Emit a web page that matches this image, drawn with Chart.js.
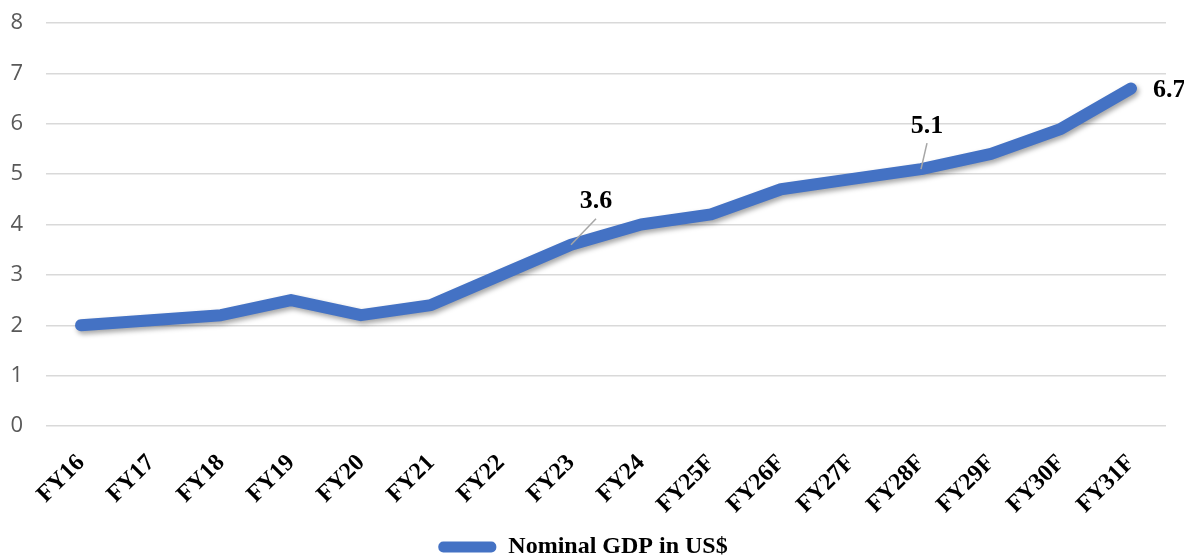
<!DOCTYPE html>
<html>
<head>
<meta charset="utf-8">
<script src="https://cdn.jsdelivr.net/npm/chart.js@4"></script>
<style>
  html, body { margin: 0; padding: 0; background: #fff; }
  #wrap { width: 1184px; height: 555px; }
</style>
</head>
<body>
<div id="wrap"><canvas id="gdpChart" width="1184" height="555"></canvas></div>
<script>
// fiscal years (F = forecast)
const years = ['FY16', 'FY17', 'FY18', 'FY19', 'FY20', 'FY21', 'FY22', 'FY23',
    'FY24', 'FY25F', 'FY26F', 'FY27F', 'FY28F', 'FY29F', 'FY30F', 'FY31F'];
// nominal GDP, trillion US$
const gdp = [2.0, 2.1, 2.2, 2.5, 2.2, 2.4, 3.0, 3.6, 4.0, 4.2, 4.7, 4.9, 5.1, 5.4, 5.9, 6.7];
const seriesName = 'Nominal GDP in US$';
// which points carry a value label
const labelledYears = ['FY23', 'FY28F', 'FY31F'];

const blue = '#4472C4';
const serif = '"Liberation Serif", "Times New Roman", serif';

// soft drop shadow under the line
const shadowPlugin = {
    id: 'lineShadow',
    beforeDatasetDraw(chart) {
        const ctx = chart.ctx;
        ctx.save();
        ctx.shadowColor = 'rgba(0,0,0,0.35)';
        ctx.shadowBlur = 5;
        ctx.shadowOffsetX = 2;
        ctx.shadowOffsetY = 3;
    },
    afterDatasetDraw(chart) {
        chart.ctx.restore();
    }
};

// value labels with small leader lines, like the excel callouts
const valueLabels = {
    id: 'valueLabels',
    afterDatasetsDraw(chart) {
        const ctx = chart.ctx;
        const meta = chart.getDatasetMeta(0);
        ctx.save();
        ctx.font = 'bold 26px ' + serif;
        ctx.fillStyle = '#000';
        labelledYears.forEach(yr => {
            const i = years.indexOf(yr);
            const pt = meta.data[i];
            const txt = gdp[i].toFixed(1);
            if (i === years.length - 1) {
                // last point: label to the right
                ctx.textAlign = 'left';
                ctx.textBaseline = 'middle';
                ctx.fillText(txt, pt.x + 22, pt.y + 2);
                return;
            }
            let dx = i === years.indexOf('FY23') ? 25 : 6;
            ctx.textAlign = 'center';
            ctx.textBaseline = 'middle';
            ctx.fillText(txt, pt.x + dx, pt.y - 43);
            // leader line
            ctx.strokeStyle = '#a6a6a6';
            ctx.lineWidth = 1.5;
            ctx.beginPath();
            ctx.moveTo(pt.x + dx, pt.y - 26);
            ctx.lineTo(pt.x, pt.y);
            ctx.stroke();
        });
        ctx.restore();
    }
};

const ctx = document.getElementById('gdpChart').getContext('2d');
new Chart(ctx, {
    type: 'line',
    data: {
        labels: years,
        datasets: [{
            label: seriesName,
            data: gdp,
            borderColor: blue,
            backgroundColor: blue,
            borderWidth: 12,
            borderCapStyle: 'round',
            borderJoinStyle: 'round',
            pointRadius: 0,
            tension: 0,
            fill: false
        }]
    },
    options: {
        responsive: false,
        animation: false,
        layout: {
            padding: { top: 23, right: 18, bottom: -14, left: 0 }
        },
        scales: {
            x: {
                offset: true,
                afterFit(scale) { scale.height = 109; },
                grid: { display: false, drawTicks: false },
                border: { display: false },
                ticks: {
                    color: '#000',
                    font: { family: serif, size: 24, weight: 'bold' },
                    minRotation: 45,
                    maxRotation: 45,
                    autoSkip: false,
                    padding: 23
                }
            },
            y: {
                min: 0,
                max: 8,
                afterFit(scale) {
                    scale.width = 46;
                    scale.paddingTop = 0;
                    scale.paddingBottom = 0;
                },
                grid: { color: '#d9d9d9', lineWidth: 1.5, drawTicks: false },
                border: { display: false },
                ticks: {
                    stepSize: 1,
                    color: '#595959',
                    font: { family: '"Open Sans", "Noto Sans", sans-serif', size: 22 },
                    padding: 23
                }
            }
        },
        plugins: {
            legend: {
                position: 'bottom',
                labels: {
                    color: '#000',
                    font: { family: serif, size: 24, weight: 'bold' },
                    boxWidth: 58,
                    boxHeight: 11,
                    padding: 0,
                    generateLabels(chart) {
                        return [{
                            text: seriesName,
                            fillStyle: blue,
                            strokeStyle: blue,
                            lineWidth: 0,
                            borderRadius: 5,
                            datasetIndex: 0
                        }];
                    },
                    useBorderRadius: true
                }
            },
            tooltip: { enabled: false }
        }
    },
    plugins: [shadowPlugin, valueLabels]
});
</script>
</body>
</html>
